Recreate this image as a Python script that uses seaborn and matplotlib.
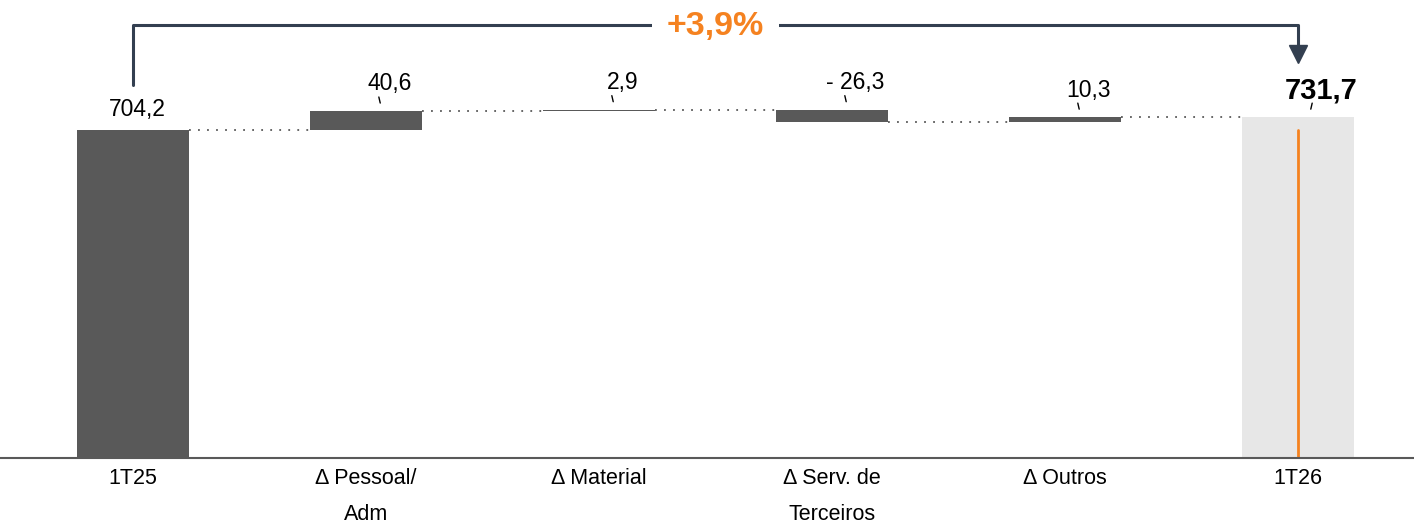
import numpy as np
import pandas as pd
import seaborn as sns
import matplotlib.pyplot as plt

# waterfall data
categories = ['1T25', 'Δ Pessoal/\nAdm', 'Δ Material', 'Δ Serv. de\nTerceiros', 'Δ Outros', '1T26']
start_value = 704.2
deltas = [40.6, 2.9, -26.3, 10.3]
end_value = 731.7
value_labels = ['704,2', '40,6', '2,9', '- 26,3', '10,3', '731,7']
growth_label = '+3,9%'

DARK = '#595959'
LIGHT = '#e7e7e7'
ORANGE = '#f58220'
NAVY = '#333f50'

running = start_value + np.cumsum(deltas)
prev = np.concatenate([[start_value], running[:-1]])
bottoms = np.array([0] + list(np.minimum(prev, running)) + [0])
heights = np.array([start_value] + list(np.abs(deltas)) + [end_value])
tops = bottoms + heights
levels = [start_value] + list(running)

df = pd.DataFrame({'cat': categories, 'height': heights})

sns.set_theme(style='white')
plt.rcParams['font.family'] = ['Liberation Sans', 'DejaVu Sans']

fig = plt.figure(figsize=(14.14, 5.28), dpi=100)
ax = fig.add_axes([0, 1 - 458 / 528, 1, 458 / 528])

w = 0.48
sns.barplot(data=df, x='cat', y='height', order=categories, bottom=bottoms,
            color=DARK, saturation=1, width=w, errorbar=None, ax=ax)
ax.patches[-1].set_facecolor(LIGHT)
for p in ax.patches:
    p.set_edgecolor('none')

# dotted connectors
for i in range(len(categories) - 1):
    ax.plot([i + w / 2, i + 1 - w / 2], [levels[i]] * 2, color=DARK,
            ls=(0, (1, 4)), lw=1.3)

# orange reference line inside final bar
ax.plot([5, 5], [0, start_value], color=ORANGE, lw=2)

# value labels with small leader ticks
for i, (lab, top) in enumerate(zip(value_labels, tops)):
    bold = i == len(value_labels) - 1
    dx = 0.017 if i == 0 else 0.1
    dy = 14.5 if i == 0 else 19.5
    ax.annotate(lab, (i + dx, top), xytext=(0, dy), textcoords='offset points',
                ha='center', va='center', fontsize=21 if bold else 16.5,
                fontweight='bold' if bold else 'normal', color='black')
    if i > 0:
        s = -1 if bold else 1
        ax.plot([i + 0.058 - s * 0.003, i + 0.058 + s * 0.003], [top + 30, top + 17],
                color='black', lw=1)

# growth bracket
br_y = end_value + 198
ax.plot([0, 0, 5, 5], [start_value + 97, br_y, br_y, end_value + 135], color=NAVY, lw=2.2)
ax.plot(5, end_value + 135, marker='v', markersize=13, color=NAVY)
ax.text(2.5, br_y - 3, growth_label, ha='center', va='center', fontsize=24.5,
        fontweight='bold', color=ORANGE,
        bbox=dict(boxstyle='square,pad=0.45', fc='white', ec='none'))

ax.set_xlim(-0.571, 5.498)
ax.set_ylim(0, 983)
ax.set_yticks([])
ax.set_xlabel('')
ax.set_ylabel('')
sns.despine(ax=ax, left=True)
ax.spines['bottom'].set_color(DARK)
ax.spines['bottom'].set_linewidth(1.5)
ax.tick_params(axis='x', length=0, pad=7, labelsize=15.5, labelcolor='black')
for t in ax.get_xticklabels():
    t.set_linespacing(1.95)

fig.savefig('out.png', dpi=100)
